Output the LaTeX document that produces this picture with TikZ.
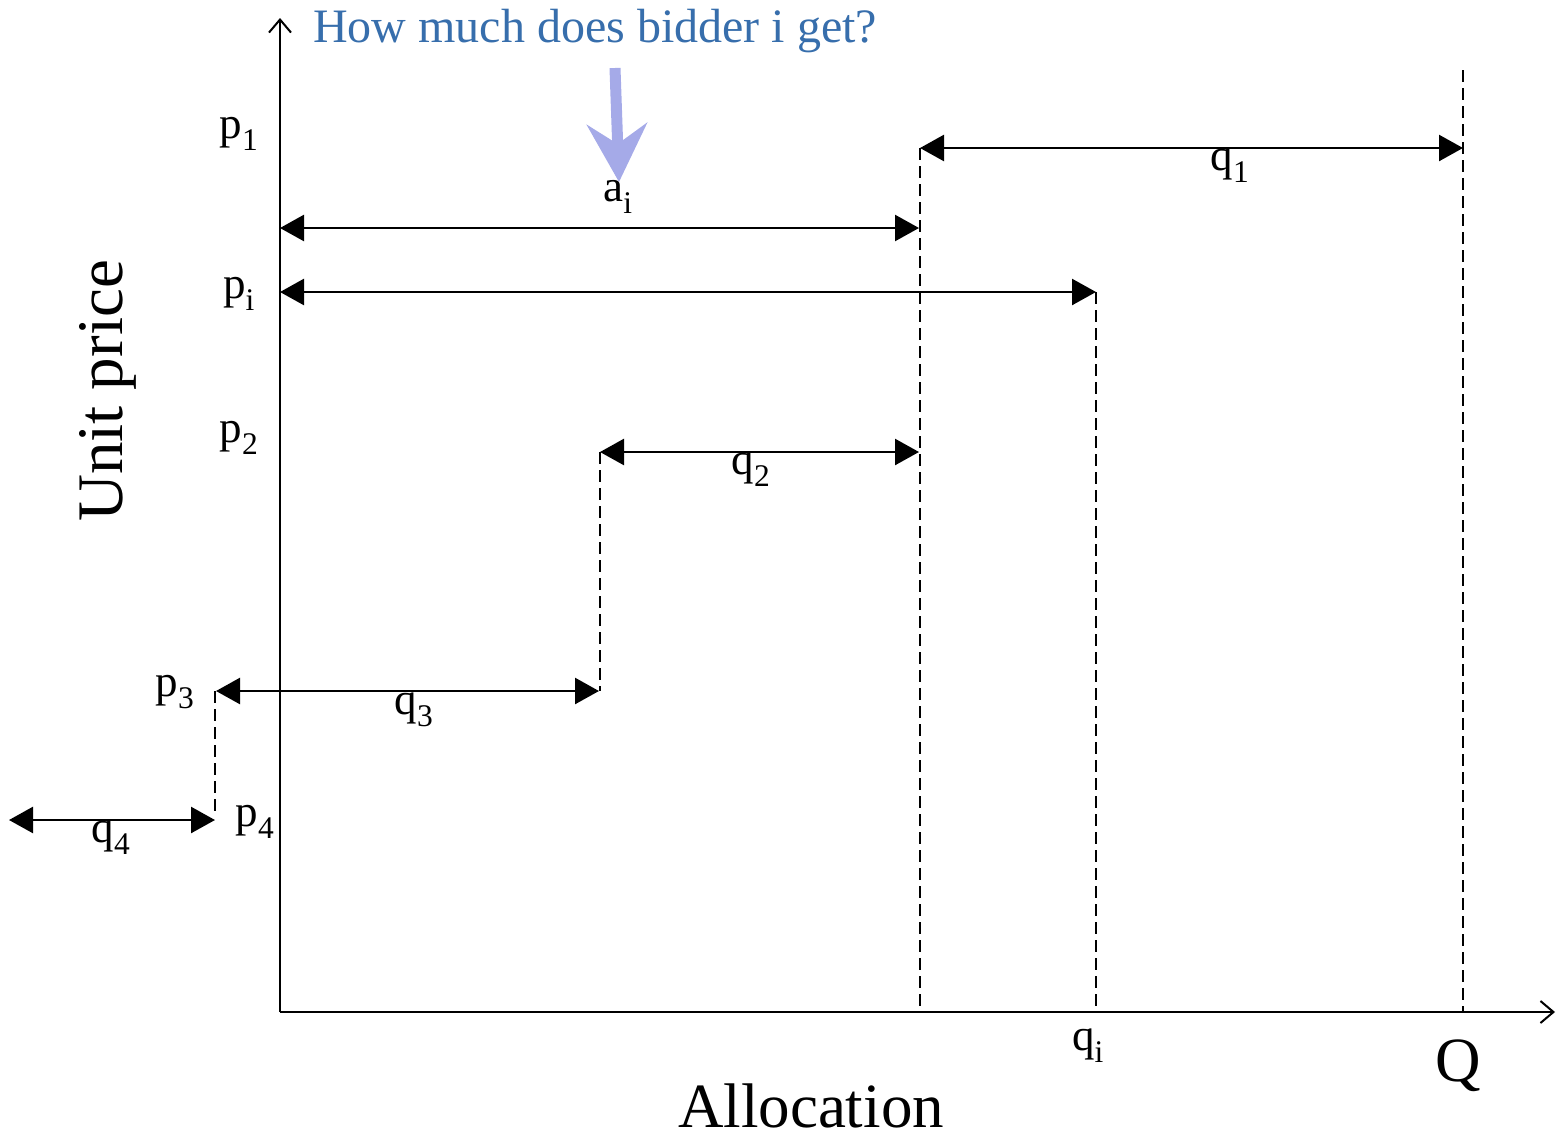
\documentclass[tikz,border=0pt]{standalone}
\usepackage{fontspec}
\setmainfont{Liberation Serif}
\usetikzlibrary{arrows.meta}
\definecolor{titleblue}{RGB}{55,110,172}
\definecolor{pointer}{RGB}{165,170,232}
\tikzset{
  lbl/.style={inner sep=0pt,font=\fontsize{45}{48}\selectfont},
  big/.style={inner sep=0pt,font=\fontsize{63}{66}\selectfont},
  axis/.style={line width=2pt,-{Straight Barb[length=13pt,width=22pt,line width=2pt]}},
  dim/.style={line width=2.5pt,{Triangle[length=24pt,width=26pt]}-{Triangle[length=24pt,width=26pt]}},
  guide/.style={line width=1.6pt,dash pattern=on 12pt off 6pt},
}
\newcommand{\sbs}[1]{\textsubscript{#1}}
\begin{document}
\begin{tikzpicture}[x=1pt,y=-1pt]
\useasboundingbox (0,0) rectangle (1556,1138);
% coordinates
\coordinate (O) at (280,1012);
\coordinate (Ytop) at (280,18);
\coordinate (Xend) at (1555,1012);
\coordinate (a0) at (280,228);  \coordinate (a1) at (919,228);
\coordinate (i0) at (280,292);  \coordinate (i1) at (1096,292);
\coordinate (q1a) at (920,148); \coordinate (q1b) at (1463,148);
\coordinate (q2a) at (600,452); \coordinate (q2b) at (919,452);
\coordinate (q3a) at (216,691); \coordinate (q3b) at (599,691);
\coordinate (q4a) at (9,820);   \coordinate (q4b) at (215,820);
\coordinate (d1top) at (920,148); \coordinate (d1bot) at (920,1012);
\coordinate (ditop) at (1096,292); \coordinate (dibot) at (1096,1012);
\coordinate (dQtop) at (1463,70); \coordinate (dQbot) at (1463,1012);
\coordinate (d2top) at (600,452); \coordinate (d2bot) at (600,691);
\coordinate (d3top) at (215,691); \coordinate (d3bot) at (215,815);
\coordinate (ptr0) at (615,68); \coordinate (ptr1) at (619,182);
% axes
\draw[axis] (O) -- (Ytop);
\draw[axis] (O) -- (Xend);
% guides
\draw[guide] (d1top) -- (d1bot);
\draw[guide] (ditop) -- (dibot);
\draw[guide] (dQtop) -- (dQbot);
\draw[guide] (d2top) -- (d2bot);
\draw[guide] (d3top) -- (d3bot);
% dimension arrows
\draw[dim] (a0) -- (a1);
\draw[dim] (i0) -- (i1);
\draw[dim] (q1a) -- (q1b);
\draw[dim] (q2a) -- (q2b);
\draw[dim] (q3a) -- (q3b);
\draw[dim] (q4a) -- (q4b);
% pointer
\draw[pointer,line width=11pt,-{Stealth[length=58pt,width=60pt,inset=20pt]}] (ptr0) -- (ptr1);
% labels
\node[lbl] (lp1) at (239,134) {p\sbs{1}};
\node[lbl] (lpi) at (239,294) {p\sbs{i}};
\node[lbl] (lp2) at (239,438) {p\sbs{2}};
\node[lbl] (lp3) at (175,692) {p\sbs{3}};
\node[lbl] (lp4) at (255,822) {p\sbs{4}};
\node[lbl] (lai) at (618,197) {a\sbs{i}};
\node[lbl] (lq1) at (1230,166) {q\sbs{1}};
\node[lbl] (lq2) at (751,470) {q\sbs{2}};
\node[lbl] (lq3) at (414,710) {q\sbs{3}};
\node[lbl] (lq4) at (111,838) {q\sbs{4}};
\node[lbl] (lqi) at (1088,1046) {q\sbs{i}};
\node[big] (lQ) at (1458,1066) {Q};
\node[big] (lalloc) at (811,1106) {Allocation};
\node[big,rotate=90,font=\fontsize{65}{68}\selectfont] (lunit) at (108,391) {Unit price};
\node[inner sep=0pt,font=\fontsize{48}{52}\selectfont,text=titleblue] (title) at (595,31) {How much does bidder i get?};
\end{tikzpicture}
\end{document}
